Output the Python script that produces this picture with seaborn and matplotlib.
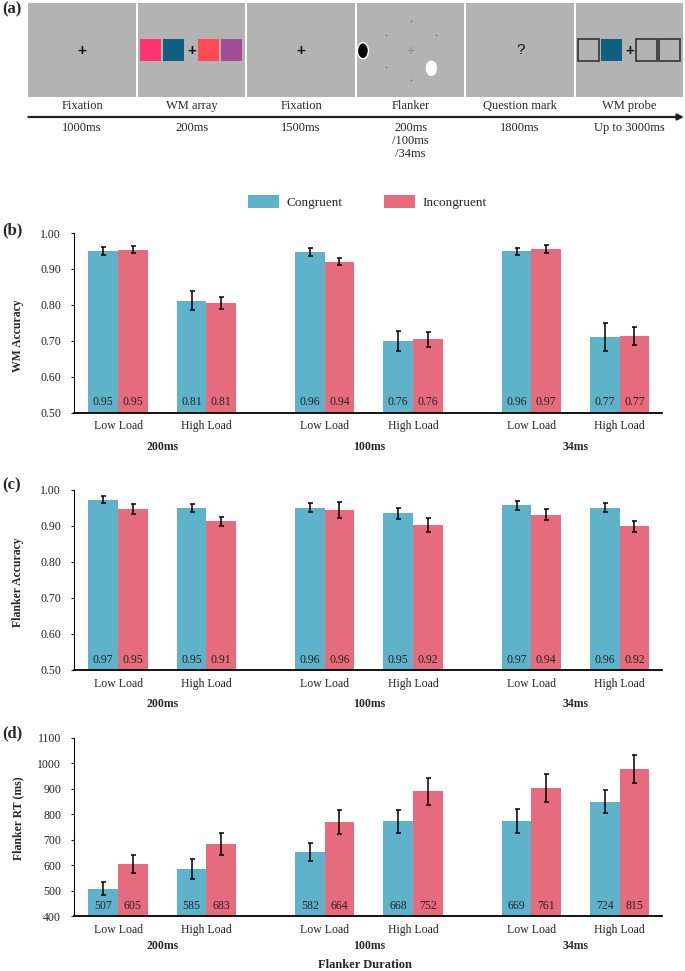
import seaborn as sns
import numpy as np
import pandas as pd
from matplotlib import pyplot as plt
from matplotlib import patches, transforms

colors = ["#5EB3CB", "#E66B7D"]
sns.set_style("ticks")
plt.rcParams['font.family'] = ['Liberation Serif', 'DejaVu Serif']

# panel (a) timeline
stages = ["Fixation", "WM array", "Fixation", "Flanker", "Question mark", "WM probe"]
stage_times = ["1000ms", "200ms", "1500ms", "200ms\n/100ms\n/34ms", "1800ms", "Up to 3000ms"]
wm_colors = ["#FF3572", "#0F5F80", "#FF4B52", "#A04C96"]

durations = ["200ms", "100ms", "34ms"]
loads = ["Low Load", "High Load"]
conditions = ["Congruent", "Incongruent"]

# order: 200ms Low, 200ms High, 100ms Low, 100ms High, 34ms Low, 34ms High
wm_cong = [0.949, 0.812, 0.947, 0.700, 0.949, 0.711]
wm_incong = [0.953, 0.805, 0.920, 0.704, 0.956, 0.713]
wm_cong_err = [0.011, 0.026, 0.010, 0.028, 0.010, 0.039]
wm_incong_err = [0.010, 0.017, 0.010, 0.020, 0.012, 0.026]
wm_cong_txt = ["0.95", "0.81", "0.96", "0.76", "0.96", "0.77"]
wm_incong_txt = ["0.95", "0.81", "0.94", "0.76", "0.97", "0.77"]

fl_cong = [0.973, 0.949, 0.951, 0.935, 0.957, 0.951]
fl_incong = [0.947, 0.913, 0.944, 0.903, 0.931, 0.899]
fl_cong_err = [0.009, 0.011, 0.013, 0.015, 0.012, 0.012]
fl_incong_err = [0.013, 0.012, 0.022, 0.020, 0.015, 0.015]
fl_cong_txt = ["0.97", "0.95", "0.96", "0.95", "0.97", "0.96"]
fl_incong_txt = ["0.95", "0.91", "0.96", "0.92", "0.94", "0.92"]

rt_cong = [507, 585, 651, 772, 772, 849]
rt_incong = [603, 682, 768, 890, 901, 976]
rt_cong_err = [26, 38, 36, 45, 46, 46]
rt_incong_err = [36, 43, 46, 53, 55, 55]
rt_cong_txt = ["507", "585", "582", "668", "669", "724"]
rt_incong_txt = ["605", "683", "664", "752", "761", "815"]

positions = [d * 2.34 + l for d in range(len(durations)) for l in range(len(loads))]

fig = plt.figure(figsize=(6.85, 9.71), dpi=100)


def draw_timeline(ax):
    ax.set_xlim(0, 685)
    ax.set_ylim(170, 0)
    ax.axis('off')
    x_start, step, w = 28.4, 109.5, 107.5
    sq_rel = [2, 25, 60, 83]
    for i, (name, t) in enumerate(zip(stages, stage_times)):
        x0 = x_start + i * step
        cx = x0 + w / 2
        ax.add_patch(patches.Rectangle((x0, 3), w, 94, facecolor='#B3B3B3', edgecolor='none'))
        ax.text(cx, 106, name, ha='center', va='center', fontsize=9)
        ax.text(cx, 122, t, ha='center', va='top', fontsize=9, linespacing=1.1)
        if name == "Fixation":
            ax.text(cx, 50.5, "+", ha='center', va='center', fontsize=11, fontweight='bold',
                    family='Liberation Sans', color='#111')
        elif name == "WM array":
            for r, c in zip(sq_rel, wm_colors):
                ax.add_patch(patches.Rectangle((x0 + r, 39.3), 21.5, 21.7, facecolor=c, edgecolor='none'))
            ax.text(cx, 50.5, "+", ha='center', va='center', fontsize=11, fontweight='bold',
                    family='Liberation Sans', color='#111')
        elif name == "Flanker":
            ax.text(cx, 50.5, "+", ha='center', va='center', fontsize=10,
                    family='Liberation Sans', color='#8a8a8a')
            for dx, dy in [(0, 21), (0, 80), (-25, 35), (25, 35), (-25, 66.7)]:
                ax.plot(cx + dx, dy, 'o', ms=1.4, color='#7a7a7a', mec='none')
            ax.add_patch(patches.Ellipse((x0 + 6, 50.7), 11, 16, facecolor='black'))
            ax.add_patch(patches.Ellipse((x0 + 74.5, 68.3), 10, 14, facecolor='white'))
        elif name == "Question mark":
            ax.text(cx, 50.5, "?", ha='center', va='center', fontsize=11,
                    family='Liberation Sans', color='#111')
        elif name == "WM probe":
            for k, r in enumerate(sq_rel):
                if k == 1:
                    ax.add_patch(patches.Rectangle((x0 + r, 39.3), 21.5, 21.7, facecolor=wm_colors[1], edgecolor='none'))
                else:
                    ax.add_patch(patches.Rectangle((x0 + r, 39.3), 21.5, 21.7, facecolor='none',
                                                   edgecolor='#333333', lw=1.2))
            ax.text(cx, 50.5, "+", ha='center', va='center', fontsize=11, fontweight='bold',
                    family='Liberation Sans', color='#111')
    ax.annotate('', xy=(684, 117), xytext=(x_start, 117),
                arrowprops=dict(arrowstyle='-|>', lw=1.6, color='#222222', mutation_scale=9,
                                shrinkA=0, shrinkB=0))


def draw_panel(ax, cong, incong, errs, txts, ylim, yticks, fmt, dur_off, legend=False):
    df = pd.DataFrame({
        "pos": positions * 2,
        "cond": [conditions[0]] * len(cong) + [conditions[1]] * len(incong),
        "value": cong + incong,
    })
    sns.barplot(data=df, x="pos", y="value", hue="cond", hue_order=conditions, palette=colors,
                native_scale=True, width=0.67, errorbar=None, saturation=1, linewidth=0,
                ax=ax, legend=legend)
    blend = transforms.blended_transform_factory(ax.transData, ax.transAxes)
    for cont, err, txt in zip(ax.containers, errs, txts):
        xs = [p.get_x() + p.get_width() / 2 for p in cont]
        hs = [p.get_height() for p in cont]
        ax.errorbar(xs, hs, yerr=err, fmt='none', ecolor='black', elinewidth=1.1,
                    capsize=1.8, capthick=1.1)
        for x, s in zip(xs, txt):
            ax.text(x, 0.058, s, transform=blend, ha='center', va='center', fontsize=8.5, color='#222')
    ax.set_xlim(-0.495, 6.16)
    ax.set_ylim(*ylim)
    ax.set_yticks(yticks)
    ax.set_yticklabels([fmt.format(v) for v in yticks])
    ax.set_xticks(positions)
    ax.set_xticklabels(loads * len(durations))
    ax.set_xlabel('')
    ax.set_ylabel('')
    ax.tick_params(axis='x', length=0, pad=5.5, labelsize=8.5, colors='#222')
    ax.tick_params(axis='y', length=2.5, width=0.8, pad=7, labelsize=8.5, colors='#222')
    sns.despine(ax=ax)
    ax.spines['left'].set_linewidth(0.8)
    ax.spines['bottom'].set_linewidth(1.3)
    ax.spines['left'].set_color('black')
    ax.spines['bottom'].set_color('black')
    for d, name in enumerate(durations):
        mid = (positions[2 * d] + positions[2 * d + 1]) / 2
        ax.annotate(name, xy=(mid, 0), xycoords=blend, xytext=(0, -dur_off),
                    textcoords='offset points', ha='center', va='center',
                    fontsize=8.5, fontweight='bold')


ax_a = fig.add_axes([0, 1 - 170 / 971, 1, 170 / 971])
draw_timeline(ax_a)

left, width = 74.3 / 685, (662 - 74.3) / 685
ax_b = fig.add_axes([left, 1 - 412.7 / 971, width, (412.7 - 233) / 971])
ax_c = fig.add_axes([left, 1 - 670 / 971, width, (670 - 490) / 971])
ax_d = fig.add_axes([left, 1 - 916 / 971, width, (916 - 737.5) / 971])

acc_ticks = np.round(np.arange(0.5, 1.001, 0.1), 2)
draw_panel(ax_b, wm_cong, wm_incong, [wm_cong_err, wm_incong_err], [wm_cong_txt, wm_incong_txt],
           (0.5, 1.0), acc_ticks, "{:.2f}", 24.5, legend=True)
draw_panel(ax_c, fl_cong, fl_incong, [fl_cong_err, fl_incong_err], [fl_cong_txt, fl_incong_txt],
           (0.5, 1.0), acc_ticks, "{:.2f}", 24.5)
draw_panel(ax_d, rt_cong, rt_incong, [rt_cong_err, rt_incong_err], [rt_cong_txt, rt_incong_txt],
           (400, 1100), np.arange(400, 1101, 100), "{:.0f}", 21.6)

handles, labels = ax_b.get_legend_handles_labels()
ax_b.get_legend().remove()
fig.legend(handles, labels, loc='center', bbox_to_anchor=(367.5 / 685, 1 - 202 / 971), ncol=2,
           frameon=False, fontsize=9.5, handlelength=2.35, handleheight=1.14, handletextpad=0.6,
           columnspacing=3.1, borderpad=0, borderaxespad=0)

fig.text(18 / 685, 1 - 336 / 971, "WM Accuracy", rotation=90, ha='center', va='center',
         fontsize=8.5, fontweight='bold')
fig.text(18 / 685, 1 - 582 / 971, "Flanker Accuracy", rotation=90, ha='center', va='center',
         fontsize=8.5, fontweight='bold')
fig.text(18 / 685, 1 - 818 / 971, "Flanker RT (ms)", rotation=90, ha='center', va='center',
         fontsize=8.5, fontweight='bold')
fig.text(0.533, 1 - 965 / 971, "Flanker Duration", ha='center', va='center',
         fontsize=9, fontweight='bold')

for lab, y in [("(a)", 9), ("(b)", 230), ("(c)", 485), ("(d)", 733)]:
    fig.text(12 / 685, 1 - y / 971, lab, ha='center', va='center', fontsize=12, fontweight='bold')

fig.savefig("out.png", dpi=100)
